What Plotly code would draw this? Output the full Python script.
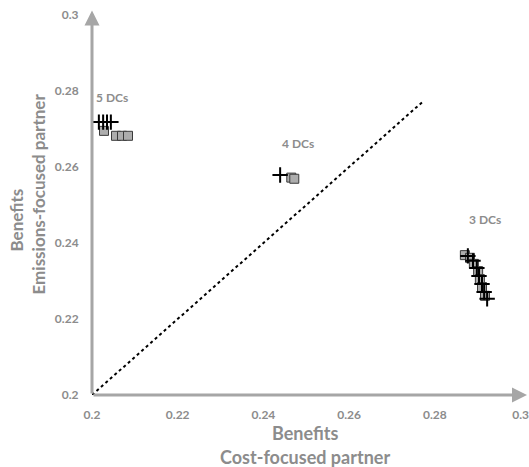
import plotly.graph_objects as go

# Squares (gray) - per DC configuration
sq_x_5 = [0.2028, 0.2056, 0.2070, 0.2084]
sq_y_5 = [0.2695, 0.2682, 0.2682, 0.2682]
sq_x_4 = [0.2465, 0.2472]
sq_y_4 = [0.2572, 0.2569]
sq_x_3 = [0.2870, 0.2882, 0.2891, 0.2901, 0.2905, 0.2910, 0.2917]
sq_y_3 = [0.2368, 0.2361, 0.2345, 0.2326, 0.2305, 0.2284, 0.2261]

# Pluses (black)
pl_x_5 = [0.2016, 0.2026, 0.2035, 0.2044]
pl_y_5 = [0.2718, 0.2718, 0.2718, 0.2718]
pl_x_4 = [0.2439]
pl_y_4 = [0.2579]
pl_x_3 = [0.2877, 0.2889, 0.2898, 0.2903, 0.2910, 0.2915, 0.2922]
pl_y_3 = [0.2366, 0.2353, 0.2334, 0.2313, 0.2292, 0.2271, 0.2253]

diag = [0.2, 0.2775]

labels = ["5 DCs", "4 DCs", "3 DCs"]
label_x = [0.2047, 0.2481, 0.2917]
label_y = [0.2782, 0.2661, 0.2463]

x_ticks = [0.2, 0.22, 0.24, 0.26, 0.28, 0.3]
x_ticktext = ["0.2", "0.22", "0.24", "0.26", "0.28", "0.3"]
y_ticks = [0.2, 0.22, 0.24, 0.26, 0.28, 0.3]
y_ticktext = ["0.2", "0.22", "0.24", "0.26", "0.28", "0.3"]

x_title = ["Benefits", "Cost-focused partner"]
y_title = ["Benefits", "Emissions-focused partner"]

GRAY = "#A6A6A6"
TXT = "#8C8C8C"
FONT = "Lato"

fig = go.Figure()

fig.add_trace(go.Scatter(x=diag, y=diag, mode="lines",
                         line=dict(color="black", width=2, dash="dot"),
                         hoverinfo="skip", showlegend=False))

sq_x = sq_x_5 + sq_x_4 + sq_x_3
sq_y = sq_y_5 + sq_y_4 + sq_y_3
fig.add_trace(go.Scatter(x=sq_x, y=sq_y, mode="markers",
                         marker=dict(symbol="square", size=9, color="#ADADAD",
                                     line=dict(color="#3A3A3A", width=1)),
                         showlegend=False))

pl_x = pl_x_5 + pl_x_4 + pl_x_3
pl_y = pl_y_5 + pl_y_4 + pl_y_3
fig.add_trace(go.Scatter(x=pl_x, y=pl_y, mode="markers",
                         marker=dict(symbol="cross-thin", size=11,
                                     line=dict(color="black", width=2)),
                         showlegend=False))

for t, lx, ly in zip(labels, label_x, label_y):
    fig.add_annotation(x=lx, y=ly, text="<b>%s</b>" % t, showarrow=False,
                       font=dict(family=FONT, size=12, color=TXT))

# axis titles
for t, ys in zip(x_title, [-38, -62]):
    fig.add_annotation(x=0.49, y=0, xref="paper", yref="paper", yshift=ys,
                       text="<b>%s</b>" % t, showarrow=False,
                       xanchor="center", yanchor="middle",
                       font=dict(family=FONT, size=18, color=TXT))
for t, xs, ys in zip(y_title, [-76, -54], [-18, 8]):
    fig.add_annotation(x=0, y=0.5, xref="paper", yref="paper", xshift=xs, yshift=ys,
                       text="<b>%s</b>" % t, showarrow=False, textangle=-90,
                       xanchor="center", yanchor="middle",
                       font=dict(family=FONT, size=17, color=TXT))

# axis arrows
fig.add_annotation(x=0.3015, y=0.2, ax=0.2, ay=0.2, xref="x", yref="y",
                   axref="x", ayref="y", showarrow=True, arrowhead=2,
                   arrowsize=1, arrowwidth=3, arrowcolor=GRAY, text="")
fig.add_annotation(x=0.2, y=0.3012, ax=0.2, ay=0.2, xref="x", yref="y",
                   axref="x", ayref="y", showarrow=True, arrowhead=2,
                   arrowsize=1, arrowwidth=3, arrowcolor=GRAY, text="")

fig.update_xaxes(range=[0.2, 0.3015], tickvals=x_ticks, ticktext=x_ticktext,
                 showgrid=False, zeroline=False, showline=False, automargin=False,
                 ticks="outside", ticklen=9, tickcolor="rgba(0,0,0,0)",
                 ticklabeloverflow="allow",
                 tickfont=dict(family=FONT, size=12, color=TXT, weight="bold"))
fig.update_yaxes(range=[0.2, 0.3013], tickvals=y_ticks, ticktext=y_ticktext,
                 showgrid=False, zeroline=False, showline=False, automargin=False,
                 ticks="outside", ticklen=10, tickcolor="rgba(0,0,0,0)",
                 ticklabeloverflow="allow",
                 tickfont=dict(family=FONT, size=12, color=TXT, weight="bold"))

fig.update_layout(width=529, height=467, plot_bgcolor="white", paper_bgcolor="white",
                  margin=dict(l=92, r=2, t=10, b=72), showlegend=False)

fig.write_html("out.html", config={"displayModeBar": False},
               post_script="document.body.style.margin='0px';")
